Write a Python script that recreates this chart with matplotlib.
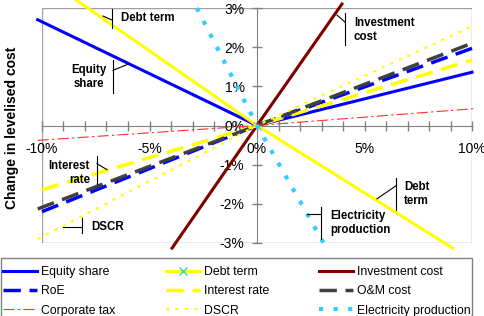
import matplotlib.pyplot as plt
from matplotlib.patches import Rectangle

plt.rcParams['font.family'] = ['Liberation Sans', 'DejaVu Sans']

# sensitivity data (% change in input -> % change in levelised cost)
equity_x = [-10.2, 0, 10]
equity_y = [2.70, 0, 1.36]
debt_x = [-8.4, 0, 9.1]
debt_y = [3.2, 0, -3.13]
invest_x = [-3.95, 0, 3.95]
invest_y = [-3.13, 0, 3.1]
roe_x = [-10, 0, 10]
roe_y = [-2.2, 0, 1.97]
interest_x = [-10, 0, 10]
interest_y = [-1.64, 0, 1.67]
om_x = [-10.2, 0, 10]
om_y = [-2.13, 0, 2.1]
tax_x = [-10.2, 0, 10.1]
tax_y = [-0.38, 0, 0.43]
dscr_x = [-10.2, 0, 10.1]
dscr_y = [-2.9, 0, 2.56]
elec_x = [-2.8, 0, 3.2]
elec_y = [3.0, 0, -3.1]

xticks = [-10, -5, 0, 5, 10]
xlabels = ["-10%", "-5%", "0%", "5%", "10%"]
yticks = [-3, -2, -1, 0, 1, 2, 3]
ylabels = ["-3%", "-2%", "-1%", "0%", "1%", "2%", "3%"]

fig = plt.figure(figsize=(4.84, 3.16), dpi=100)
ax = fig.add_axes([42/484, 1-243/316, 430/484, 235/316])
ax.set_xlim(-10, 10)
ax.set_ylim(-3, 3)

h = {}
h['Equity share'], = ax.plot(equity_x, equity_y, color='#0000ff', lw=2.2, clip_on=False)
h['Debt term'], = ax.plot(debt_x, debt_y, color='#ffff00', lw=2.2, clip_on=False,
                          marker='x', markevery=[1], mec='#33ccff', ms=6, mew=1)
h['Investment cost'], = ax.plot(invest_x, invest_y, color='#800000', lw=2.2, clip_on=False)
h['RoE'], = ax.plot(roe_x, roe_y, color='#0000ff', lw=2.5, ls=(0, (5, 2.5)), clip_on=False)
h['Interest rate'], = ax.plot(interest_x, interest_y, color='#ffff00', lw=2.5, ls=(0, (5, 2.5)), clip_on=False)
h['O&M cost'], = ax.plot(om_x, om_y, color='#404040', lw=2.5, ls=(0, (5, 2.5)), clip_on=False)
h['Corporate tax'], = ax.plot(tax_x, tax_y, color='#ff3030', lw=0.8, ls=(0, (10, 3, 2, 3)), clip_on=False)
h['DSCR'], = ax.plot(dscr_x, dscr_y, color='#ffff00', lw=1.5, ls=(0, (1.5, 3)), clip_on=False)
h['Electricity production'], = ax.plot(elec_x, elec_y, color='#33ccff', lw=3, ls=(0, (1, 2.5)), clip_on=False)

# axes through origin, grey frame around plot area
for s in ['top', 'right']:
    ax.spines[s].set_visible(False)
ax.spines['left'].set_position(('data', 0))
ax.spines['bottom'].set_position(('data', 0))
for s in ['left', 'bottom']:
    ax.spines[s].set_color('#808080')
    ax.spines[s].set_zorder(1)
ax.add_patch(Rectangle((0, 0), 1, 1, transform=ax.transAxes, fill=False,
                       edgecolor='#a0a0a0', lw=1, zorder=0))

ax.set_xticks(range(-10, 11), minor=True)
ax.set_xticks(xticks)
ax.set_xticklabels(xlabels)
ax.set_yticks(yticks)
ax.set_yticklabels(ylabels)
ax.tick_params(axis='both', which='both', direction='inout', color='#808080',
               length=7, labelsize=10, width=1)
ax.tick_params(axis='x', pad=8.5)
ax.tick_params(axis='y', pad=5.5)

fig.text(0.025, 0.595, 'Change in levelised cost', rotation=90, fontsize=10,
         fontweight='bold', ha='center', va='center')

# callouts
def px(x, y):
    return ((x - 257) / 21.5, (125 - y) / 39)

def callout(bar, lead, text, tpos, ha='left'):
    bx, by0, by1 = bar
    p0, p1 = px(bx, by0), px(bx, by1)
    ax.plot([p0[0], p1[0]], [p0[1], p1[1]], color='black', lw=0.8, clip_on=False)
    a, b = px(*lead[0]), px(*lead[1])
    ax.plot([a[0], b[0]], [a[1], b[1]], color='black', lw=0.8, clip_on=False)
    t = px(*tpos)
    ax.text(t[0], t[1], text, ha=ha, va='center', fontsize=8.3, fontweight='bold',
            linespacing=1.25, multialignment='center' if ha == 'center' else ha)

callout((112, 9, 28), ((103, 16), (112, 20)), 'Debt term', (121, 18))
callout((113, 60, 93), ((113, 70), (128, 64)), 'Equity\nshare', (89, 77), ha='center')
callout((345, 13, 45), ((337, 15), (345, 22)), 'Investment\ncost', (354, 30))
callout((97, 155, 183), ((97, 163), (107, 169)), 'Interest\nrate', (90, 172), ha='right')
callout((82, 217, 232), ((63, 226), (82, 226)), 'DSCR', (91, 226))
callout((396, 177, 209), ((377, 198), (396, 185)), 'Debt\nterm', (404, 193))
callout((321, 206, 238), ((307, 213), (321, 213)), 'Electricity\nproduction', (330, 222))

# legend: grey box running off the bottom edge, entries laid out row-wise
fig.patches.append(Rectangle((0.5/484, -0.05), 471.5/484, 0.05 + 1 - 258/316,
                             transform=fig.transFigure, fill=False,
                             edgecolor='#808080', lw=1))
order = ['Equity share', 'RoE', 'Corporate tax',
         'Debt term', 'Interest rate', 'DSCR',
         'Investment cost', 'O&M cost', 'Electricity production']
leg = fig.legend([h[k] for k in order], order, loc='upper left',
                 bbox_to_anchor=(0.0, 0.0, 474/484, 1 - 263/316), mode='expand',
                 ncol=3, fontsize=8.8, frameon=False, handlelength=2.8,
                 handletextpad=0.33, labelspacing=0.6, borderpad=0.25,
                 borderaxespad=0)

fig.savefig('out.png', dpi=100)
